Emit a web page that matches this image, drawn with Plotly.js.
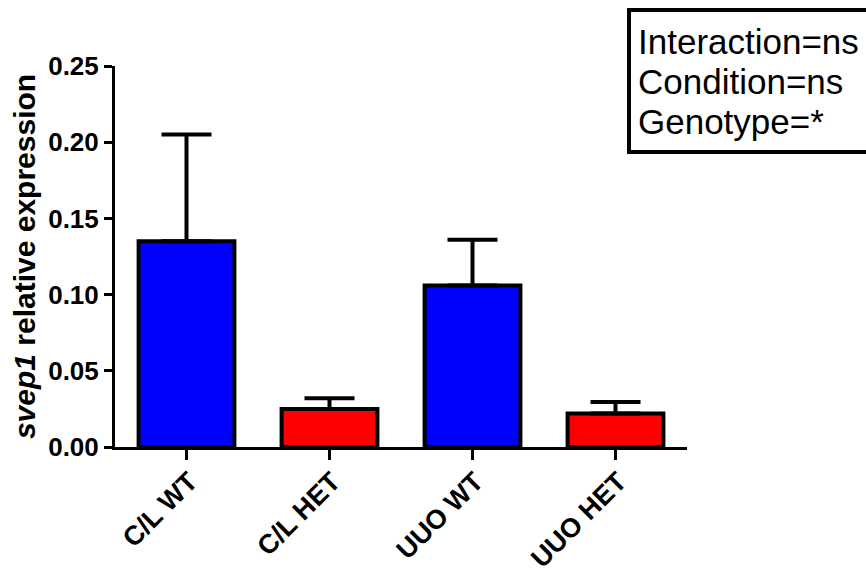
<!DOCTYPE html>
<html>
<head>
<meta charset="utf-8">
<script src="https://cdn.plot.ly/plotly-3.0.1.min.js"></script>
<style>body{margin:0;background:#fff}#chart{width:866px;height:575px}</style>
</head>
<body>
<div id="chart"></div>
<script>
const categories = ["C/L WT", "C/L HET", "UUO WT", "UUO HET"];
const means = [0.135, 0.025, 0.106, 0.022];
const errorsUp = [0.070, 0.007, 0.030, 0.0075];
const barColors = ["#0000ff", "#ff0000", "#0000ff", "#ff0000"];
const yTickVals = [0, 0.05, 0.10, 0.15, 0.20, 0.25];
const yTickText = ["0.00", "0.05", "0.10", "0.15", "0.20", "0.25"];
const statsLines = ["Interaction=ns", "Condition=ns", "Genotype=*"];

const FONT = "Liberation Sans, Arial, sans-serif";
const PL = 115, PR = 687, PT = 66, PB = 447;
const PW = PR - PL, PH = PB - PT;

const trace = {
  type: "bar",
  x: categories,
  y: means,
  width: 0.67,
  marker: {color: barColors, line: {color: "#000", width: 4}},
  error_y: {
    type: "data", symmetric: false, array: errorsUp,
    arrayminus: errorsUp.map(() => 0),
    color: "#000", thickness: 4, width: 25
  },
  hoverinfo: "skip"
};

const annotations = statsLines.map((t, i) => ({
  xref: "paper", yref: "paper",
  x: (636 - PL) / PW, y: (PB - (41 + i * 40)) / PH,
  xanchor: "left", yanchor: "middle",
  text: t, showarrow: false,
  font: {family: FONT, size: 35, color: "#000"}
}));

const layout = {
  width: 866, height: 575,
  margin: {l: PL, r: 866 - PR, t: PT, b: 575 - PB},
  paper_bgcolor: "#fff", plot_bgcolor: "#fff",
  showlegend: false,
  xaxis: {
    type: "category", range: [-0.5, 3.5],
    showline: true, linecolor: "#000", linewidth: 3,
    ticks: "outside", ticklen: 10, tickwidth: 3, tickcolor: "#000",
    tickangle: -45,
    ticklabelstandoff: -5, ticklabelshift: 3,
    tickfont: {family: FONT, size: 27, color: "#000", weight: "bold"},
    showgrid: false, zeroline: false, fixedrange: true
  },
  yaxis: {
    range: [0, 0.25],
    tickvals: yTickVals, ticktext: yTickText,
    showline: true, linecolor: "#000", linewidth: 3,
    ticks: "outside", ticklen: 8, tickwidth: 3, tickcolor: "#000",
    tickfont: {family: FONT, size: 26, color: "#000", weight: "bold"},
    showgrid: false, zeroline: false, fixedrange: true,
    title: {
      text: "<i>svep1</i> relative expression",
      font: {family: FONT, size: 30, color: "#000", weight: "bold"},
      standoff: 4
    }
  },
  shapes: [{
    type: "rect", xref: "paper", yref: "paper",
    x0: (629 - PL) / PW, x1: (885 - PL) / PW,
    y0: (PB - 152) / PH, y1: (PB - 10) / PH,
    line: {color: "#000", width: 4}, fillcolor: "rgba(0,0,0,0)"
  }],
  annotations: annotations
};

Plotly.newPlot("chart", [trace], layout, {displayModeBar: false, staticPlot: true});
</script>
</body>
</html>
